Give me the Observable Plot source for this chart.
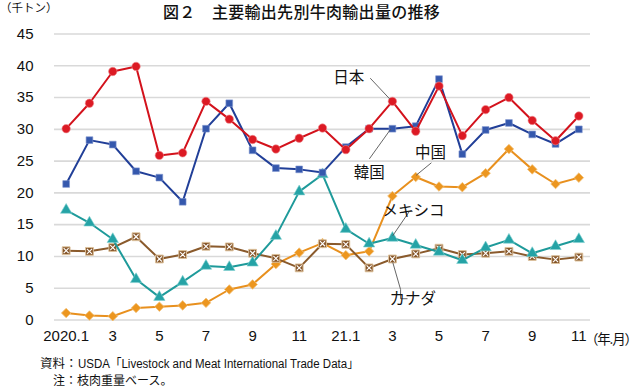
<!DOCTYPE html>
<html>
<head>
<meta charset="utf-8">
<script src="https://cdn.jsdelivr.net/npm/d3@7"></script>
<script src="https://cdn.jsdelivr.net/npm/@observablehq/plot@0.6"></script>
<style>
  html, body { margin: 0; padding: 0; background: #fff; }
  #wrap { position: relative; width: 640px; height: 387px; overflow: hidden; }
  #wrap svg { position: absolute; left: 0; top: 0; }
  .t { position: absolute; white-space: nowrap; line-height: 1.2; color: #111; }
  .jp { font-family: "Noto Sans CJK JP", sans-serif; }
  .narrow { display: inline-block; transform: scaleX(0.92); transform-origin: left center; font-family: "Liberation Sans", Arial, "Noto Sans CJK JP", sans-serif; }
</style>
</head>
<body>
<div id="wrap">
  <div class="t jp" style="left:0px; top:1px; font-size:11.5px;">（千トン）</div>
  <div class="t jp" style="left:163px; top:2px; font-size:16px; font-weight:500; letter-spacing:0.3px;">図２　主要輸出先別牛肉輸出量の推移</div>
  <div class="t jp" style="left:585px; top:330px; font-size:13.5px; letter-spacing:-1.2px;">（年.月）</div>
  <div class="t" style="left:40px; top:355px; font-size:12.5px;"><span class="jp">資料：</span><span class="narrow">USDA<span class="jp">「</span>Livestock and Meat International Trade Data<span class="jp">」</span></span></div>
  <div class="t jp" style="left:53px; top:373px; font-size:12px;">注：枝肉重量ベース。</div>
</div>
<script>
// Month labels (Jan 2020 – Nov 2021)
const months = ["2020.1","2","3","4","5","6","7","8","9","10","11","12",
                "21.1","2","3","4","5","6","7","8","9","10","11"];
const xTickIdx = [0,2,4,6,8,10,12,14,16,18,20,22];
const yTicks = [0,5,10,15,20,25,30,35,40,45];

// Export volumes (thousand tonnes)
const japan  = [30.1,34.1,39.1,39.9,25.9,26.3,34.4,31.6,28.4,26.9,28.6,30.2,26.8,30.1,34.4,29.7,36.8,29.0,33.1,35.0,31.4,28.2,32.1];
const korea  = [21.4,28.3,27.6,23.4,22.4,18.6,30.1,34.1,26.7,23.9,23.7,23.2,27.2,30.1,30.1,30.5,37.9,26.1,29.9,31.0,29.2,27.7,30.0];
const china  = [1.1,0.7,0.6,1.9,2.1,2.3,2.7,4.8,5.6,8.8,10.6,12.1,10.2,10.8,19.5,22.5,21.0,20.9,23.1,26.9,23.7,21.4,22.4];
const mexico = [17.3,15.3,12.7,6.4,3.6,6.0,8.5,8.3,9.0,13.2,20.2,22.9,14.3,12.0,12.9,11.8,10.7,9.4,11.4,12.6,10.5,11.6,12.7];
const canada = [10.9,10.8,11.4,13.1,9.6,10.3,11.6,11.5,10.5,9.7,8.2,12.0,11.9,8.2,9.6,10.4,11.3,10.3,10.5,10.8,10.0,9.5,9.9];

// Series labels and leader lines (data coordinates: month index, value)
const labels = [
  {name: "日本",     x: 12.13, y: 38.0,  anchor: "middle"},
  {name: "韓国",     x: 13.01, y: 23.1,  anchor: "middle"},
  {name: "中国",     x: 15.63, y: 26.2,  anchor: "middle"},
  {name: "メキシコ", x: 14.9,  y: 17.1,  anchor: "start"},
  {name: "カナダ",   x: 14.87, y: 3.25,  anchor: "start"}
];
const leaders = [
  {id: "jp", pts: [[13.06, 38.0], [13.88, 34.8]]},
  {id: "kr", pts: [[13.02, 25.4], [13.92, 30.0]]},
  {id: "cn", pts: [[15.66, 24.7], [15.03, 22.8]]},
  {id: "mx", pts: [[14.85, 17.1], [14.73, 17.1], [14.02, 13.3]]},
  {id: "ca", pts: [[14.02, 9.0], [14.35, 4.8], [14.35, 3.35], [14.63, 3.35]]}
];

const rows = (vals) => vals.map((v, i) => ({i, v}));
const leaderRows = leaders.flatMap(l => l.pts.map(([x, y]) => ({id: l.id, x, y})));

const chart = Plot.plot({
  width: 640,
  height: 387,
  marginTop: 33.5,
  marginBottom: 67.5,
  marginLeft: 54,
  marginRight: 50,
  style: {fontFamily: "'Liberation Sans', Arial, sans-serif", color: "#111", background: "transparent"},
  x: {type: "linear", domain: [-0.5, months.length - 0.5], label: null},
  y: {domain: [0, 45], label: null},
  marks: [
    Plot.ruleY(yTicks, {stroke: "#d9d9d9", strokeWidth: 1.6}),
    Plot.axisY({ticks: yTicks, tickSize: 0, tickPadding: 21, fontSize: 15, label: null}),
    Plot.axisX({ticks: xTickIdx, tickFormat: i => months[i], tickSize: 0, tickPadding: 10, fontSize: 15, label: null}),

    // China
    Plot.line(rows(china), {x: "i", y: "v", stroke: "#e8901e", strokeWidth: 2}),
    Plot.dot(rows(china), {x: "i", y: "v", symbol: "diamond2", r: 4.3, fill: "#ec961f", stroke: "#f3c27a", strokeWidth: 0.8}),
    // Canada
    Plot.line(rows(canada), {x: "i", y: "v", stroke: "#8a5a2c", strokeWidth: 2}),
    Plot.dot(rows(canada), {x: "i", y: "v", symbol: "square", r: 4.4, fill: "#86562a", stroke: "#dcc09a", strokeWidth: 1}),
    Plot.dot(rows(canada), {x: "i", y: "v", symbol: "times", r: 2.4, stroke: "#ffffff", strokeWidth: 1.1}),
    // Mexico
    Plot.line(rows(mexico), {x: "i", y: "v", stroke: "#1e9a9a", strokeWidth: 2}),
    Plot.dot(rows(mexico), {x: "i", y: "v", symbol: "triangle", r: 4.2, fill: "#25a3a6", stroke: "#7fd0d0", strokeWidth: 0.6}),
    // Korea
    Plot.line(rows(korea), {x: "i", y: "v", stroke: "#213f98", strokeWidth: 2}),
    Plot.dot(rows(korea), {x: "i", y: "v", symbol: "square", r: 3.8, fill: "#3558ad", stroke: "#7f95cf", strokeWidth: 0.6}),
    // Japan
    Plot.line(rows(japan), {x: "i", y: "v", stroke: "#d3121c", strokeWidth: 2}),
    Plot.dot(rows(japan), {x: "i", y: "v", symbol: "circle", r: 4.2, fill: "#dc1a24", stroke: "#f08a8e", strokeWidth: 0.6}),

    // Leader lines and labels
    Plot.line(leaderRows, {x: "x", y: "y", z: "id", stroke: "#555", strokeWidth: 0.9}),
    Plot.text(labels, {x: "x", y: "y", text: "name", textAnchor: "anchor", fontSize: 15.5,
      fontFamily: "'Noto Sans CJK JP', sans-serif", fill: "#111"})
  ]
});

document.getElementById("wrap").prepend(chart);
</script>
</body>
</html>
